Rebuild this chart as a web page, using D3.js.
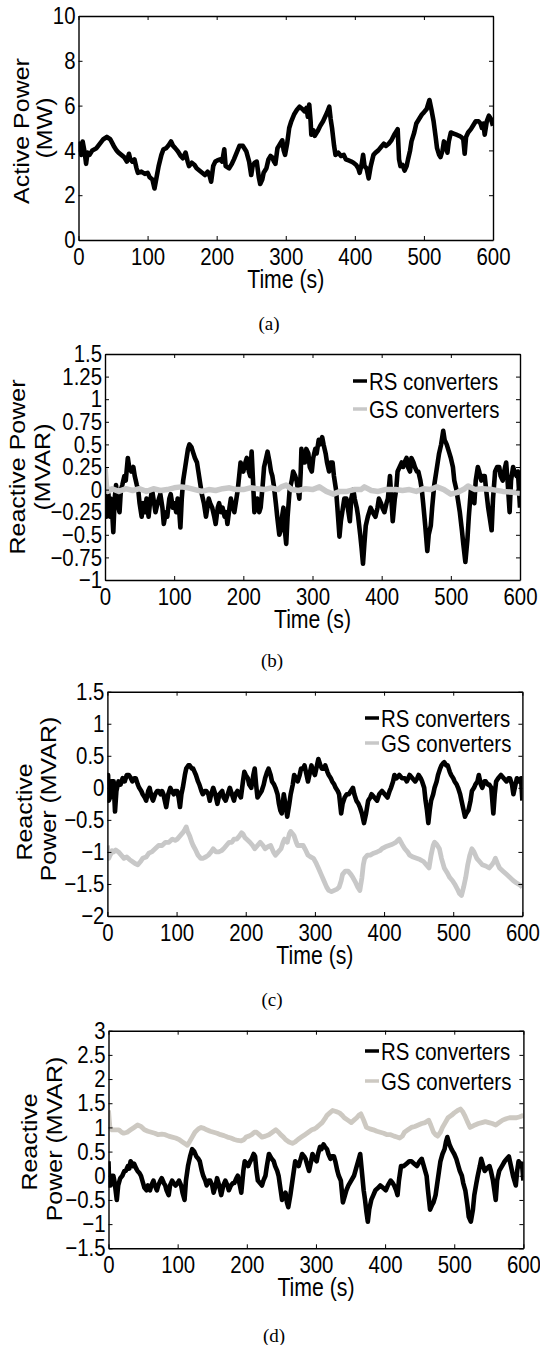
<!DOCTYPE html>
<html>
<head>
<meta charset="utf-8">
<script src="https://cdn.jsdelivr.net/npm/d3@7"></script>
<style>
  body { margin: 0; background: #fff; }
  svg { display: block; }
</style>
</head>
<body>
<div id="chart"></div>
<script>
// ---- data: [time (s), value] ----
const timeTicks = [0, 100, 200, 300, 400, 500, 600];
const ticksA = [0, 2, 4, 6, 8, 10];
const ticksB = [-1, -0.75, -0.5, -0.25, 0, 0.25, 0.5, 0.75, 1, 1.25, 1.5];
const ticksC = [-2, -1.5, -1, -0.5, 0, 0.5, 1, 1.5];
const ticksD = [-1.5, -1, -0.5, 0, 0.5, 1, 1.5, 2, 2.5, 3];
const seriesNames = ["RS converters", "GS converters"];

// (a) active power, MW
const activeA = [
  [0,4.0],[2,4.3],[4,3.8],[6,4.4],[9,3.9],[11,3.4],[13,3.9],[16,3.8],[20,4.0],[26,4.1],
  [31,4.3],[36,4.5],[41,4.6],[46,4.5],[51,4.2],[55,4.0],[58,3.9],[62,3.8],[66,3.7],[70,3.5],
  [73,3.85],[75,3.6],[78,3.5],[81,3.6],[84,3.2],[86,3.0],[91,3.05],[96,2.95],[100,3.0],[103,2.8],
  [107,2.7],[110,2.3],[113,2.8],[116,3.3],[120,3.8],[123,4.05],[127,4.1],[131,4.25],[134,4.4],[137,4.2],
  [140,4.1],[144,3.95],[148,3.75],[151,3.65],[155,3.9],[158,3.5],[160,3.3],[164,3.45],[168,3.35],[171,3.2],
  [175,3.1],[179,3.0],[183,2.9],[187,3.05],[190,2.85],[192,2.6],[195,3.3],[198,3.5],[201,3.55],[205,3.6],
  [208,3.5],[211,4.05],[213,3.3],[218,3.2],[222,3.4],[225,3.6],[229,3.9],[233,4.2],[238,4.2],[243,3.95],
  [247,3.5],[250,2.9],[252,3.3],[255,3.45],[258,3.5],[261,2.8],[263,2.5],[266,2.7],[268,3.0],[272,3.2],
  [275,3.6],[278,3.75],[280,3.7],[283,3.5],[285,3.4],[288,4.1],[290,4.2],[293,4.35],[295,4.45],[297,4.0],
  [299,3.8],[302,4.3],[305,5.0],[308,5.3],[312,5.6],[316,5.8],[320,5.95],[324,5.85],[327,5.75],[330,5.9],
  [332,5.5],[334,6.05],[336,5.3],[337,4.7],[340,4.9],[342,4.65],[346,4.85],[350,5.1],[354,5.3],[357,5.5],
  [360,5.7],[363,5.95],[365,5.4],[367,5.0],[370,4.2],[372,3.8],[376,3.9],[380,3.75],[384,3.8],[387,3.6],
  [391,3.55],[395,3.5],[398,3.45],[402,3.35],[405,3.2],[407,3.0],[410,3.4],[412,3.8],[414,3.3],[417,3.2],
  [420,2.75],[423,3.3],[427,3.8],[430,3.9],[434,4.0],[438,4.15],[442,4.3],[445,4.2],[449,4.3],[453,4.45],
  [457,4.7],[460,4.85],[462,4.95],[464,3.6],[466,3.3],[469,3.35],[472,3.1],[475,3.3],[477,3.6],[480,4.0],
  [482,4.4],[486,4.8],[489,5.2],[493,5.4],[497,5.6],[500,5.7],[504,5.85],[508,6.25],[511,5.8],[514,5.3],
  [517,4.6],[519,4.1],[522,3.8],[524,3.7],[527,4.0],[529,4.4],[532,4.2],[534,3.9],[536,4.4],[539,4.8],
  [543,4.75],[547,4.7],[551,4.65],[554,4.6],[557,4.5],[559,3.85],[561,4.6],[564,4.8],[568,4.95],[571,5.1],
  [575,5.3],[579,5.3],[582,5.2],[584,5.0],[586,5.2],[588,4.7],[591,5.3],[594,5.55],[597,5.4],[600,5.1]
];

// (b) reactive power, MVAR
const rsB = [
  [0,-0.1],[1,0.0],[2,-0.3],[3,-0.2],[5,-0.05],[7,-0.3],[8,-0.1],[10,-0.2],[12,-0.47],[14,-0.1],
  [16,0.05],[18,-0.15],[21,-0.25],[23,0.0],[25,0.05],[28,0.15],[30,0.1],[33,0.35],[35,0.25],[38,0.2],
  [41,0.25],[43,0.15],[46,0.05],[48,0.0],[50,-0.15],[53,-0.3],[55,-0.15],[58,-0.25],[60,-0.1],[63,-0.3],
  [65,-0.15],[68,0.0],[70,-0.1],[73,-0.25],[76,-0.15],[80,-0.05],[83,-0.2],[85,-0.38],[88,-0.25],[90,-0.3],
  [93,-0.1],[95,-0.05],[98,-0.2],[100,-0.15],[103,-0.25],[105,-0.1],[107,-0.2],[109,-0.42],[111,-0.1],[113,0.1],
  [116,0.25],[118,0.35],[120,0.45],[122,0.5],[125,0.47],[127,0.42],[130,0.35],[133,0.3],[135,0.2],[138,0.05],
  [140,-0.05],[143,-0.15],[146,-0.3],[148,-0.2],[150,-0.1],[152,-0.15],[155,-0.2],[158,-0.3],[160,-0.38],[163,-0.2],
  [165,-0.15],[168,-0.25],[170,-0.2],[173,-0.3],[175,-0.25],[177,-0.38],[180,-0.2],[182,-0.1],[185,-0.2],[187,-0.25],
  [190,-0.1],[192,0.0],[194,0.15],[196,0.3],[198,0.25],[200,0.2],[203,0.3],[205,0.35],[208,0.2],[210,0.15],
  [212,0.42],[214,0.1],[216,-0.25],[218,-0.2],[220,-0.1],[223,-0.25],[225,-0.2],[228,0.05],[230,0.25],[233,0.35],
  [235,0.42],[238,0.3],[240,0.2],[242,0.15],[244,0.05],[247,-0.15],[249,-0.3],[252,-0.5],[254,-0.45],[256,-0.3],
  [258,-0.2],[260,-0.45],[262,-0.6],[264,-0.3],[267,0.0],[270,0.1],[272,0.2],[275,0.15],[277,0.1],[279,0.0],
  [281,-0.1],[283,0.2],[284,0.45],[286,0.3],[289,0.3],[291,0.45],[294,0.4],[296,0.25],[299,0.2],[301,0.35],
  [304,0.45],[306,0.4],[309,0.55],[311,0.5],[314,0.58],[316,0.5],[319,0.4],[321,0.3],[324,0.2],[326,0.3],
  [329,0.3],[331,0.15],[334,0.0],[336,-0.2],[339,-0.52],[341,-0.35],[344,-0.2],[346,-0.1],[349,-0.1],[351,-0.2],
  [354,-0.35],[356,-0.1],[359,0.0],[361,-0.1],[364,-0.2],[366,-0.3],[369,-0.5],[371,-0.65],[373,-0.82],[375,-0.6],
  [377,-0.4],[380,-0.3],[384,-0.2],[387,-0.25],[391,-0.3],[394,-0.2],[396,-0.1],[399,-0.15],[401,-0.2],[404,-0.25],
  [407,-0.15],[409,-0.1],[412,0.15],[414,-0.1],[416,-0.35],[419,-0.1],[421,0.0],[423,0.2],[426,0.25],[429,0.3],
  [431,0.25],[433,0.3],[436,0.35],[438,0.25],[441,0.2],[443,0.35],[446,0.3],[448,0.25],[451,0.2],[453,0.2],
  [456,0.1],[458,0.0],[460,-0.15],[463,-0.4],[466,-0.68],[468,-0.5],[471,-0.4],[473,-0.2],[476,0.05],[478,0.15],
  [481,0.3],[483,0.4],[486,0.5],[489,0.65],[491,0.55],[494,0.5],[496,0.45],[498,0.4],[500,0.35],[503,0.25],
  [505,0.1],[508,0.0],[510,-0.1],[513,-0.25],[516,-0.45],[518,-0.6],[521,-0.8],[524,-0.55],[526,-0.3],[529,0.0],
  [531,-0.05],[534,-0.15],[536,0.1],[539,0.25],[541,0.2],[544,0.1],[546,0.15],[549,0.15],[551,0.0],[554,-0.2],
  [556,-0.3],[559,-0.45],[561,-0.1],[564,0.2],[567,0.25],[570,0.25],[572,0.15],[575,0.1],[577,0.2],[580,0.3],
  [582,0.1],[585,-0.25],[587,0.1],[590,0.25],[592,0.2],[595,0.15],[597,0.2],[600,-0.2]
];
const gsB = [
  [0,0.25],[2,0.05],[4,-0.02],[10,0.01],[20,-0.02],[30,0.01],[40,-0.01],[50,0.01],[60,-0.02],[70,0.01],
  [80,-0.01],[90,0.0],[100,0.02],[110,0.03],[120,0.02],[130,0.0],[140,-0.02],[150,0.0],[160,-0.01],[170,0.01],
  [180,0.02],[190,0.0],[200,0.0],[210,0.02],[220,0.01],[230,0.0],[240,0.02],[250,0.0],[255,0.03],[262,0.05],
  [270,0.0],[280,-0.01],[290,0.01],[300,0.0],[310,0.03],[320,-0.02],[330,-0.05],[340,-0.02],[350,-0.02],[360,0.0],
  [370,0.0],[375,0.03],[385,-0.01],[395,-0.02],[405,0.0],[420,0.0],[430,-0.01],[440,0.0],[450,-0.02],[460,0.01],
  [470,0.0],[480,0.03],[490,0.0],[500,-0.05],[510,-0.03],[520,0.01],[525,0.04],[535,0.0],[545,0.01],[560,0.0],
  [575,-0.02],[590,-0.03],[600,-0.04]
];

// (c) reactive power, MVAR
const rsC = [
  [0,0.0],[1,0.2],[2,-0.2],[4,-0.15],[6,0.1],[9,0.1],[11,-0.37],[13,-0.05],[16,0.1],[19,0.05],
  [22,0.15],[25,0.1],[28,0.2],[31,0.2],[34,0.15],[36,0.1],[39,0.15],[41,0.15],[44,0.05],[46,0.0],
  [49,-0.05],[51,-0.1],[54,-0.15],[56,-0.2],[59,-0.05],[61,0.0],[64,-0.15],[66,-0.2],[69,-0.1],[72,-0.05],
  [74,-0.05],[77,-0.1],[79,-0.05],[81,-0.1],[83,-0.2],[85,-0.3],[88,-0.1],[91,0.0],[93,-0.05],[96,-0.1],
  [98,-0.05],[101,-0.05],[103,-0.15],[105,-0.3],[107,-0.1],[109,0.0],[112,0.2],[114,0.3],[117,0.35],[119,0.35],
  [122,0.3],[124,0.3],[126,0.25],[128,0.2],[131,0.1],[133,0.05],[136,-0.05],[138,-0.1],[141,-0.05],[143,-0.05],
  [146,-0.1],[148,-0.2],[150,-0.1],[153,0.0],[156,-0.1],[159,-0.25],[162,-0.1],[166,-0.05],[168,-0.15],[171,-0.2],
  [174,-0.1],[177,0.0],[180,-0.1],[183,-0.2],[185,-0.1],[188,-0.05],[190,-0.1],[193,-0.15],[196,0.1],[198,0.25],
  [200,0.2],[203,0.15],[205,0.05],[208,0.0],[211,0.2],[213,0.3],[215,0.05],[217,-0.15],[220,-0.1],[223,-0.05],
  [226,0.05],[228,0.15],[231,0.25],[233,0.3],[236,0.2],[238,0.1],[241,0.05],[243,0.0],[246,-0.1],[248,-0.25],
  [250,-0.35],[252,-0.4],[254,-0.2],[255,-0.1],[258,-0.3],[260,-0.45],[263,-0.25],[265,-0.1],[268,0.05],[270,0.2],
  [273,0.15],[275,0.1],[278,0.2],[280,0.3],[283,0.3],[285,0.35],[288,0.2],[290,0.1],[293,0.25],[295,0.35],
  [298,0.25],[300,0.2],[303,0.35],[305,0.45],[308,0.35],[310,0.3],[313,0.3],[315,0.35],[318,0.25],[320,0.2],
  [323,0.15],[325,0.1],[328,0.05],[330,0.0],[333,-0.05],[335,-0.1],[338,-0.4],[340,-0.25],[343,-0.15],[346,-0.1],
  [349,-0.1],[352,-0.05],[355,0.0],[357,-0.1],[360,-0.2],[363,-0.25],[365,-0.3],[368,-0.4],[371,-0.55],[374,-0.4],
  [377,-0.2],[380,-0.15],[382,-0.1],[386,-0.15],[390,-0.2],[393,-0.1],[397,-0.05],[401,-0.1],[405,-0.15],[408,-0.05],
  [410,0.0],[413,0.1],[415,0.2],[418,0.15],[422,0.2],[426,0.15],[430,0.15],[433,0.1],[437,0.2],[441,0.15],
  [445,0.1],[448,0.15],[450,0.2],[453,0.15],[455,0.1],[458,0.0],[460,-0.2],[462,-0.35],[464,-0.55],[466,-0.35],
  [468,-0.2],[471,-0.1],[473,0.0],[476,0.1],[478,0.2],[481,0.3],[483,0.35],[485,0.38],[487,0.4],[490,0.35],
  [492,0.35],[495,0.25],[497,0.2],[500,0.15],[502,0.1],[505,0.05],[507,0.0],[510,-0.1],[512,-0.2],[515,-0.35],
  [517,-0.45],[519,-0.4],[522,-0.35],[525,-0.2],[527,-0.05],[530,0.0],[532,0.05],[535,0.1],[537,0.2],[540,0.05],
  [542,0.0],[545,0.1],[547,0.1],[550,0.05],[552,0.05],[555,0.0],[558,-0.4],[560,-0.1],[562,0.1],[565,0.15],
  [569,0.2],[573,0.15],[577,0.1],[580,0.15],[582,0.15],[585,0.05],[587,-0.1],[590,0.05],[592,0.15],[595,0.1],
  [597,0.1],[598,0.15],[600,-0.2]
];
const gsC = [
  [0,-0.9],[2,-1.1],[4,-1.05],[7,-0.98],[9,-1.0],[12,-0.97],[16,-1.0],[20,-1.05],[24,-1.1],[28,-1.08],
  [32,-1.12],[36,-1.15],[40,-1.18],[44,-1.2],[48,-1.15],[51,-1.1],[56,-1.08],[60,-1.02],[64,-1.0],[69,-0.95],
  [74,-0.9],[79,-0.9],[84,-0.85],[89,-0.85],[94,-0.8],[98,-0.82],[101,-0.8],[105,-0.75],[109,-0.7],[112,-0.65],
  [114,-0.61],[116,-0.68],[119,-0.75],[122,-0.85],[124,-0.9],[128,-0.98],[131,-1.05],[135,-1.1],[138,-1.1],[142,-1.08],
  [146,-1.05],[150,-1.0],[153,-0.95],[157,-1.0],[161,-1.0],[165,-0.98],[168,-0.95],[172,-0.9],[176,-0.85],[180,-0.85],
  [183,-0.8],[187,-0.8],[191,-0.75],[194,-0.7],[196,-0.72],[199,-0.78],[201,-0.8],[206,-0.85],[210,-0.9],[213,-0.95],
  [217,-0.9],[221,-0.85],[225,-0.9],[228,-0.95],[232,-0.92],[236,-0.9],[240,-1.0],[243,-1.05],[247,-1.0],[251,-0.95],
  [254,-0.85],[256,-0.8],[260,-0.85],[263,-0.72],[265,-0.68],[268,-0.72],[270,-0.75],[273,-0.85],[275,-0.9],[279,-0.9],
  [283,-0.9],[287,-0.98],[290,-1.05],[294,-1.08],[298,-1.1],[302,-1.18],[305,-1.25],[309,-1.35],[313,-1.45],[317,-1.55],
  [320,-1.6],[324,-1.62],[328,-1.6],[332,-1.58],[335,-1.55],[338,-1.45],[340,-1.35],[344,-1.3],[348,-1.3],[352,-1.35],
  [355,-1.4],[359,-1.48],[362,-1.55],[365,-1.6],[368,-1.4],[370,-1.2],[372,-1.1],[376,-1.05],[380,-1.05],[385,-1.02],
  [390,-1.0],[394,-0.98],[397,-0.95],[402,-0.92],[407,-0.9],[412,-0.88],[417,-0.85],[420,-0.82],[422,-0.8],[426,-0.88],
  [430,-0.95],[434,-1.0],[437,-1.05],[442,-1.08],[447,-1.1],[452,-1.12],[457,-1.15],[461,-1.2],[465,-1.25],[468,-1.05],
  [471,-0.9],[473,-0.85],[476,-0.88],[480,-0.95],[483,-1.1],[487,-1.25],[491,-1.32],[495,-1.4],[499,-1.45],[502,-1.5],
  [506,-1.58],[509,-1.65],[512,-1.68],[515,-1.55],[518,-1.4],[521,-1.2],[524,-1.05],[527,-0.95],[530,-1.0],[534,-1.1],
  [538,-1.15],[542,-1.2],[547,-1.22],[552,-1.25],[556,-1.2],[559,-1.15],[561,-1.1],[564,-1.18],[567,-1.25],[572,-1.3],
  [577,-1.35],[582,-1.4],[587,-1.45],[591,-1.48],[594,-1.5],[597,-1.52],[600,-1.55]
];

// (d) reactive power, MVAR
const rsD = [
  [0,0.3],[1,-0.2],[3,-0.2],[5,0.0],[7,0.0],[9,-0.15],[12,-0.5],[14,-0.2],[17,-0.05],[20,0.0],
  [23,0.1],[25,0.1],[28,0.2],[30,0.15],[32,0.3],[35,0.2],[37,0.25],[40,0.15],[42,0.1],[45,0.05],
  [47,0.0],[50,-0.15],[52,-0.25],[55,-0.3],[57,-0.2],[60,-0.3],[62,-0.2],[65,-0.1],[67,-0.2],[70,-0.3],
  [72,-0.2],[75,-0.1],[77,-0.05],[80,-0.15],[82,-0.2],[84,-0.3],[87,-0.4],[89,-0.2],[92,-0.1],[94,-0.15],
  [97,-0.2],[100,-0.15],[102,-0.1],[105,-0.2],[107,-0.35],[110,-0.5],[112,-0.1],[115,0.2],[118,0.4],[121,0.55],
  [124,0.5],[127,0.4],[130,0.35],[132,0.3],[135,0.1],[137,0.0],[140,-0.1],[142,-0.2],[145,-0.1],[147,-0.1],
  [150,-0.2],[152,-0.35],[155,-0.2],[157,-0.05],[160,-0.2],[163,-0.4],[166,-0.2],[169,-0.1],[172,-0.2],[174,-0.3],
  [177,-0.2],[180,-0.15],[182,-0.15],[185,-0.05],[187,0.0],[190,-0.2],[192,-0.35],[195,0.1],[197,0.3],[200,0.25],
  [202,0.2],[205,0.3],[207,0.35],[210,0.45],[212,0.4],[214,0.1],[216,-0.1],[219,-0.15],[222,-0.2],[224,-0.1],
  [227,0.0],[229,0.2],[232,0.45],[234,0.4],[236,0.35],[239,0.3],[241,0.2],[244,0.1],[246,0.0],[249,-0.3],
  [251,-0.5],[254,-0.4],[256,-0.35],[258,-0.55],[260,-0.65],[263,-0.4],[265,-0.2],[268,0.1],[270,0.3],[273,0.25],
  [275,0.2],[278,0.35],[280,0.45],[283,0.4],[285,0.35],[288,0.2],[290,0.1],[293,0.3],[295,0.45],[298,0.35],
  [301,0.3],[303,0.45],[306,0.6],[308,0.55],[311,0.65],[313,0.6],[316,0.55],[318,0.45],[321,0.35],[323,0.4],
  [326,0.4],[328,0.3],[331,0.1],[333,0.0],[336,-0.1],[339,-0.55],[341,-0.45],[344,-0.3],[347,-0.2],[351,-0.1],
  [355,0.0],[359,0.2],[362,0.35],[364,0.45],[367,0.0],[369,-0.3],[371,-0.5],[373,-0.75],[375,-0.95],[377,-0.7],
  [380,-0.5],[383,-0.4],[386,-0.3],[390,-0.25],[393,-0.2],[397,-0.25],[401,-0.3],[404,-0.2],[408,-0.1],[411,-0.15],
  [413,-0.2],[416,-0.3],[418,-0.4],[420,-0.1],[423,0.2],[427,0.2],[431,0.25],[435,0.3],[438,0.3],[442,0.25],
  [446,0.2],[450,0.3],[453,0.35],[456,0.2],[460,0.0],[462,-0.3],[465,-0.7],[468,-0.6],[470,-0.55],[473,-0.4],
  [475,-0.2],[478,0.1],[480,0.3],[483,0.45],[486,0.55],[488,0.7],[490,0.8],[493,0.65],[496,0.55],[498,0.5],
  [500,0.45],[503,0.35],[506,0.2],[508,0.1],[511,0.0],[513,-0.15],[516,-0.3],[519,-0.6],[521,-0.85],[524,-0.95],
  [527,-0.7],[529,-0.4],[532,-0.15],[534,0.0],[537,0.2],[539,0.35],[542,0.2],[544,0.1],[547,0.15],[551,0.2],
  [553,0.1],[556,-0.1],[558,-0.3],[560,-0.5],[562,-0.1],[565,0.1],[569,0.2],[573,0.3],[576,0.35],[579,0.4],
  [582,0.2],[585,0.0],[587,-0.1],[589,-0.2],[591,0.1],[593,0.3],[595,0.25],[596,0.2],[598,0.25],[600,-0.1]
];
const gsD = [
  [0,1.35],[2,1.0],[5,0.95],[10,0.95],[15,0.95],[19,0.9],[22,0.88],[27,0.9],[32,0.95],[37,1.0],
  [42,1.05],[47,1.02],[52,0.95],[57,0.92],[62,0.9],[67,0.88],[72,0.85],[77,0.86],[82,0.85],[87,0.82],
  [92,0.8],[97,0.78],[102,0.75],[107,0.7],[112,0.65],[114,0.63],[117,0.7],[121,0.8],[125,0.9],[130,0.97],
  [134,1.0],[138,0.98],[142,0.95],[147,0.92],[152,0.9],[157,0.88],[162,0.85],[167,0.83],[172,0.8],[177,0.78],
  [182,0.75],[187,0.73],[192,0.72],[196,0.75],[199,0.8],[203,0.82],[207,0.85],[211,0.9],[214,0.9],[218,0.85],
  [222,0.8],[227,0.82],[232,0.85],[237,0.9],[242,0.95],[246,0.9],[249,0.85],[253,0.8],[256,0.75],[261,0.7],
  [266,0.67],[270,0.7],[274,0.75],[279,0.8],[284,0.85],[289,0.9],[294,0.95],[298,0.97],[301,1.0],[305,1.05],
  [309,1.1],[313,1.18],[316,1.25],[320,1.3],[324,1.35],[329,1.33],[334,1.3],[338,1.25],[341,1.2],[346,1.15],
  [351,1.1],[355,1.15],[359,1.2],[362,1.25],[365,1.28],[369,1.15],[373,1.0],[378,0.97],[383,0.95],[388,0.92],
  [393,0.9],[398,0.88],[403,0.85],[408,0.85],[413,0.82],[417,0.8],[421,0.78],[425,0.82],[428,0.9],[433,0.95],
  [438,1.0],[443,1.02],[448,1.05],[453,1.08],[458,1.1],[463,1.15],[466,1.05],[470,0.9],[473,0.85],[476,0.82],
  [480,0.9],[483,1.0],[487,1.1],[491,1.2],[496,1.25],[500,1.3],[505,1.35],[509,1.38],[512,1.33],[515,1.25],
  [519,1.12],[523,1.0],[526,1.02],[530,1.05],[535,1.08],[540,1.1],[545,1.12],[550,1.1],[555,1.08],[560,1.05],
  [565,1.1],[570,1.15],[575,1.18],[580,1.2],[585,1.2],[590,1.2],[595,1.22],[600,1.25]
];

// ---- layout ----
var W = 540, H = 1345;
var sx = 0.85;           // the source figure's text is squeezed sideways
var fontTick = 24, fontLab = 25;
var black = "#000", grey = "#c8c8c8", greyD = "#cdc9c2";

var panels = [
  {key: "a", l: 78.5, r: 493, t: 16, b: 240, ydom: [0, 10], yticks: ticksA,
   ylab: [{s: "Active Power", x: 21.5, y: 131}, {s: "(MW)", x: 45, y: 128}],
   lines: [{data: activeA, color: black, w: 4.6}],
   legend: null, cap: {s: "(a)", x: 269, y: 330}},
  {key: "b", l: 105, r: 520, t: 354, b: 580, ydom: [-1, 1.5], yticks: ticksB,
   ylab: [{s: "Reactive Power", x: 18, y: 467}, {s: "(MVAR)", x: 43, y: 467}],
   lines: [{data: rsB, color: black, w: 4.6}, {data: gsB, color: grey, w: 5.5}],
   legend: {x: 353, y: [390, 418]}, cap: {s: "(b)", x: 272, y: 667}},
  {key: "c", l: 107.4, r: 522.4, t: 691.7, b: 916, ydom: [-2, 1.5], yticks: ticksC,
   ylab: [{s: "Reactive", x: 25, y: 812}, {s: "Power (MVAR)", x: 48.5, y: 799}],
   lines: [{data: rsC, color: black, w: 4.6}, {data: gsC, color: grey, w: 4.8}],
   legend: {x: 365, y: [727, 752]}, cap: {s: "(c)", x: 272, y: 1006}},
  {key: "d", l: 108.5, r: 523.4, t: 1030.7, b: 1248.3, ydom: [-1.5, 3], yticks: ticksD,
   ylab: [{s: "Reactive", x: 30, y: 1142}, {s: "Power (MVAR)", x: 55, y: 1139}],
   lines: [{data: rsD, color: black, w: 4.6}, {data: gsD, color: greyD, w: 4.8}],
   legend: {x: 365, y: [1060, 1090]}, cap: {s: "(d)", x: 274, y: 1342}}
];

function fmt(d) {
  return d < 0 ? "\u2212" + Math.abs(d) : String(d);
}

var svg = d3.select("#chart").append("svg")
  .attr("width", W)
  .attr("height", H)
  .style("font-family", "'Liberation Sans', Arial, Helvetica, sans-serif");

panels.forEach(function(p) {
  var x = d3.scaleLinear().domain([0, 600]).range([p.l, p.r]);
  var y = d3.scaleLinear().domain(p.ydom).range([p.b, p.t]);
  var g = svg.append("g").attr("class", "panel-" + p.key);

  g.append("clipPath").attr("id", "clip-" + p.key)
    .append("rect")
    .attr("x", p.l).attr("y", p.t)
    .attr("width", p.r - p.l).attr("height", p.b - p.t);

  // series
  var line = d3.line()
    .x(function(d) { return x(d[0]); })
    .y(function(d) { return y(d[1]); });
  p.lines.forEach(function(s) {
    g.append("path")
      .datum(s.data)
      .attr("clip-path", "url(#clip-" + p.key + ")")
      .attr("fill", "none")
      .attr("stroke", s.color)
      .attr("stroke-width", s.w)
      .attr("stroke-linejoin", "round")
      .attr("d", line);
  });

  // box axes, ticks pointing inward
  function styleAxis(ax) {
    ax.attr("font-size", fontTick).attr("font-family", null);
    ax.select(".domain").attr("stroke-width", 1.4);
    ax.selectAll(".tick line").attr("stroke-width", 1);
  }
  var bottom = g.append("g")
    .attr("transform", "translate(0," + p.b + ")")
    .call(d3.axisBottom(x).tickValues(timeTicks).tickSize(-4).tickSizeOuter(0).tickPadding(8));
  styleAxis(bottom);
  bottom.selectAll("text").attr("transform", "scale(" + sx + ",1)");

  var top = g.append("g")
    .attr("transform", "translate(0," + p.t + ")")
    .call(d3.axisTop(x).tickValues(timeTicks).tickSize(-4).tickSizeOuter(0).tickFormat(""));
  styleAxis(top);

  var left = g.append("g")
    .attr("transform", "translate(" + p.l + ",0)")
    .call(d3.axisLeft(y).tickValues(p.yticks).tickSize(-4).tickSizeOuter(0).tickFormat(fmt));
  styleAxis(left);
  left.selectAll("text")
    .attr("x", -3 / sx)
    .attr("transform", "scale(" + sx + ",1)");

  var right = g.append("g")
    .attr("transform", "translate(" + p.r + ",0)")
    .call(d3.axisRight(y).tickValues(p.yticks).tickSize(-4).tickSizeOuter(0).tickFormat(""));
  styleAxis(right);

  // axis titles
  g.append("text")
    .attr("transform", "translate(" + (p.l + p.r) / 2 + "," + (p.b + 48) + ") scale(" + sx + ",1)")
    .attr("text-anchor", "middle")
    .style("font-size", fontLab + "px")
    .text("Time (s)");

  p.ylab.forEach(function(lb) {
    g.append("text")
      .attr("transform", "translate(" + lb.x + "," + lb.y + ") rotate(-90) scale(1," + sx + ")")
      .attr("text-anchor", "middle")
      .attr("dy", "0.35em")
      .style("font-size", fontLab + "px")
      .text(lb.s);
  });

  // legend
  if (p.legend) {
    var leg = g.append("g").attr("class", "legend");
    p.legend.y.forEach(function(ly, i) {
      leg.append("line")
        .attr("x1", p.legend.x).attr("x2", p.legend.x + 14)
        .attr("y1", ly - 9).attr("y2", ly - 9)
        .attr("stroke", p.lines[i].color)
        .attr("stroke-width", 3.5);
      leg.append("text")
        .attr("transform", "translate(" + (p.legend.x + 16) + "," + ly + ") scale(" + sx + ",1)")
        .style("font-size", fontTick + "px")
        .text(seriesNames[i]);
    });
  }

  // caption
  g.append("text")
    .attr("x", p.cap.x)
    .attr("y", p.cap.y)
    .attr("text-anchor", "middle")
    .style("font-family", "'Liberation Serif', 'Times New Roman', serif")
    .style("font-size", "19px")
    .text(p.cap.s);
});
</script>
</body>
</html>
